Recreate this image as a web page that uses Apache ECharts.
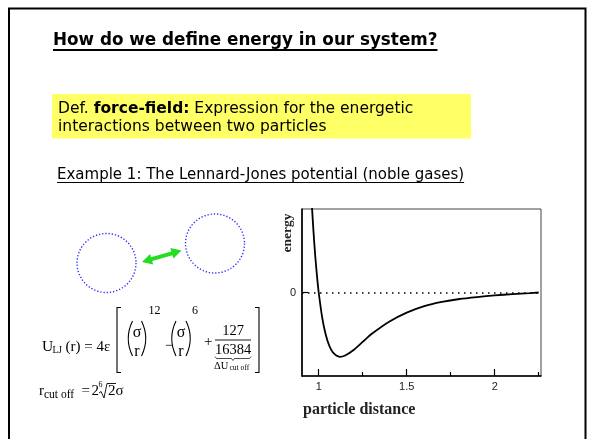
<!DOCTYPE html>
<html>
<head>
<meta charset="utf-8">
<script src="https://cdn.jsdelivr.net/npm/echarts@6/dist/echarts.min.js"></script>
<style>
  html, body { margin: 0; padding: 0; background: #fff; }
  #slide { width: 589px; height: 439px; }
</style>
</head>
<body>
<div id="slide"></div>
<script>
// Lennard-Jones pair energy (units of epsilon) against particle distance (units of sigma)
const distance = [0.955, 0.96, 0.97, 0.98, 0.99, 1.0, 1.02, 1.04, 1.06, 1.08, 1.10, 1.12, 1.15, 1.2, 1.25, 1.3, 1.4, 1.5, 1.6, 1.7, 1.8, 1.9, 2.0, 2.1, 2.2, 2.25];
const energy = [1.75, 1.40, 0.95, 0.57, 0.26, 0.0, -0.39, -0.65, -0.82, -0.92, -0.97, -0.99, -0.97, -0.88, -0.76, -0.64, -0.45, -0.31, -0.21, -0.145, -0.10, -0.07, -0.045, -0.025, -0.01, 0.0];
const distanceTicks = [1, 1.5, 2];
const distanceMinorTicks = [1.25, 1.75, 2.25];
const energyTicks = [0];

const SERIF = '"Liberation Serif", "Times New Roman", serif';
const SANS = '"Liberation Sans", Arial, sans-serif';
const HAND = '"Comic Sans MS", "DejaVu Sans", sans-serif';

const measureCtx = document.createElement('canvas').getContext('2d');
function textWidth(s, font) { measureCtx.font = font; return measureCtx.measureText(s).width; }

function txt(x, y, s, size, extra) {
  const style = Object.assign({
    text: s, fontSize: size, fontFamily: SERIF, fill: '#000',
    textAlign: 'left', textVerticalAlign: 'middle', align: 'left', verticalAlign: 'middle'
  }, extra || {});
  return { type: 'text', x: x, y: y, silent: true, style: style };
}
function poly(points, width, color) {
  return { type: 'polyline', silent: true, shape: { points: points },
           style: { stroke: color || '#000', lineWidth: width, fill: null } };
}
function curve(x1, y1, x2, y2, cx, cy, width) {
  return { type: 'bezierCurve', silent: true,
           shape: { x1: x1, y1: y1, x2: x2, y2: y2, cpx1: cx, cpy1: cy },
           style: { stroke: '#000', lineWidth: width, fill: null } };
}

// double-headed arrow between the two particles
function doubleArrow(ax, ay, bx, by, shaft, head, headLen) {
  const dx = bx - ax, dy = by - ay, L = Math.hypot(dx, dy);
  const ux = dx / L, uy = dy / L, nx = -uy, ny = ux;
  const p = (s, t) => [ax + ux * s + nx * t, ay + uy * s + ny * t];
  return [p(0, 0), p(headLen, head), p(headLen, shaft), p(L - headLen, shaft), p(L - headLen, head),
          p(L, 0), p(L - headLen, -head), p(L - headLen, -shaft), p(headLen, -shaft), p(headLen, -head)];
}

const titleText = 'How do we define energy in our system?';
const titleSize = 16.8;
const exampleText = 'Example 1: The Lennard-Jones potential (noble gases)';
const exampleSize = 15;
const defSize = 15.5;

const graphics = [
  // slide frame
  { type: 'rect', silent: true, shape: { x: 9, y: 8.5, width: 576.5, height: 480 },
    style: { stroke: '#000', lineWidth: 2, fill: null } },
  // heading
  txt(53, 40.5, titleText, titleSize, { fontFamily: HAND, fontWeight: 'bold' }),
  poly([[53, 50], [53 + textWidth(titleText, 'bold ' + titleSize + 'px ' + HAND), 50]], 2),
  // definition box
  { type: 'rect', silent: true, shape: { x: 52, y: 94, width: 419, height: 44.5 }, style: { fill: '#ffff66' } },
  txt(58, 108.5, '{n|Def. }{b|force-field:}{n| Expression for the energetic}', defSize, {
    fontFamily: HAND,
    rich: { n: { fontSize: defSize, fontFamily: HAND, fill: '#000' },
            b: { fontSize: defSize, fontFamily: HAND, fontWeight: 'bold', fill: '#000' } }
  }),
  txt(58, 127, 'interactions between two particles', defSize, { fontFamily: HAND }),
  // example heading
  txt(57, 175, exampleText, exampleSize, { fontFamily: HAND }),
  poly([[57, 182.5], [57 + textWidth(exampleText, exampleSize + 'px ' + HAND), 182.5]], 1),
  // two particles
  { type: 'circle', silent: true, shape: { cx: 106.5, cy: 263, r: 29.5 },
    style: { stroke: '#2f2fff', lineWidth: 1.4, lineDash: [1.3, 1.9], fill: null } },
  { type: 'circle', silent: true, shape: { cx: 215, cy: 243.5, r: 29.5 },
    style: { stroke: '#2f2fff', lineWidth: 1.4, lineDash: [1.3, 1.9], fill: null } },
  { type: 'polygon', silent: true, shape: { points: doubleArrow(142, 262, 181.5, 250.5, 2, 5.5, 10) },
    style: { fill: '#22dd22', stroke: null } },

  // U_LJ(r) = 4ε [ (σ/r)^12 − (σ/r)^6 + 127/16384 ]
  txt(42, 347, 'U', 15.5),
  txt(52.5, 350, 'LJ', 9.5),
  txt(65.5, 347, '(r) = 4ε', 15),
  poly([[121, 307.5], [117, 307.5], [117, 372.5], [121, 372.5]], 1.1),
  curve(132.5, 321, 132.5, 356, 124, 338.5, 1.1),
  txt(137, 333, 'σ', 16, { textAlign: 'center', align: 'center' }),
  txt(137, 351.5, 'r', 16, { textAlign: 'center', align: 'center' }),
  curve(141.5, 321, 141.5, 356, 150, 338.5, 1.1),
  txt(148.5, 311, '12', 12),
  txt(165, 346, '−', 15),
  curve(176, 321, 176, 356, 167.5, 338.5, 1.1),
  txt(181, 333, 'σ', 16, { textAlign: 'center', align: 'center' }),
  txt(181, 351.5, 'r', 16, { textAlign: 'center', align: 'center' }),
  curve(186, 321, 186, 356, 194.5, 338.5, 1.1),
  txt(192, 311, '6', 12),
  txt(204, 342, '+', 15),
  txt(233, 331, '127', 14.5, { textAlign: 'center', align: 'center' }),
  poly([[215, 340], [251, 340]], 0.9),
  txt(233, 350.5, '16384', 14.5, { textAlign: 'center', align: 'center' }),
  poly([[215, 356.5], [216.5, 358.5], [231.5, 358.5], [233, 360.5], [234.5, 358.5], [249.5, 358.5], [251, 356.5]], 0.7),
  txt(214, 366.5, 'ΔU', 10.5),
  txt(229.5, 368.5, 'cut off', 7.5),
  poly([[255, 307.5], [259, 307.5], [259, 372.5], [255, 372.5]], 1.1),

  // r_cut off = 2 ⁶√2 σ
  txt(39, 391, 'r', 15),
  txt(44, 395, 'cut off', 11.5),
  txt(81.5, 391, '=', 15),
  txt(91.5, 391, '2', 15),
  txt(98.5, 384.5, '6', 8),
  poly([[99, 393], [101, 391.5], [104, 398], [107, 383.5], [116, 383.5]], 0.9),
  txt(108, 391.5, '2σ', 15),

  // axis titles
  { type: 'text', x: 288, y: 233, rotation: Math.PI / 2, silent: true,
    style: { text: 'energy', fontSize: 13.5, fontWeight: 'bold', fontFamily: SERIF, fill: '#222',
             textAlign: 'center', align: 'center', textVerticalAlign: 'middle', verticalAlign: 'middle' } },
  txt(303, 409.5, 'particle distance', 16, { fontWeight: 'bold', fill: '#222' })
];

const chart = echarts.init(document.getElementById('slide'), null, { renderer: 'canvas' });
chart.setOption({
  animation: false,
  backgroundColor: '#fff',
  grid: { left: 302, top: 209, width: 239, height: 167, show: true,
          borderColor: '#444', borderWidth: 1, backgroundColor: 'transparent' },
  xAxis: [
    { type: 'value', min: 0.905, max: 2.263, position: 'bottom',
      axisLine: { show: true, onZero: false, lineStyle: { color: '#000', width: 1.6 } },
      axisTick: { show: true, inside: true, length: 7, customValues: distanceTicks,
                  lineStyle: { color: '#000', width: 1.2 } },
      axisLabel: { customValues: distanceTicks, color: '#222', fontFamily: SANS, fontSize: 11, margin: 5 },
      splitLine: { show: false } },
    { type: 'value', min: 0.905, max: 2.263, position: 'bottom',
      axisLine: { show: false, onZero: false },
      axisTick: { show: true, inside: true, length: 4, customValues: distanceMinorTicks,
                  lineStyle: { color: '#000', width: 1.2 } },
      axisLabel: { show: false },
      splitLine: { show: false } }
  ],
  yAxis: {
    type: 'value', min: -1.285, max: 1.285,
    axisLine: { show: true, onZero: false, lineStyle: { color: '#000', width: 1.6 } },
    axisTick: { show: true, inside: true, length: 6, customValues: energyTicks,
                lineStyle: { color: '#000', width: 1.2 } },
    axisLabel: { customValues: energyTicks, color: '#222', fontFamily: SANS, fontSize: 11, margin: 6 },
    splitLine: { show: false }
  },
  series: [{
    type: 'line',
    data: distance.map((d, i) => [d, energy[i]]),
    showSymbol: false,
    smooth: 0.25,
    clip: true,
    lineStyle: { color: '#000', width: 1.8 },
    markLine: {
      silent: true, symbol: ['none', 'none'], label: { show: false },
      lineStyle: { color: '#000', type: [1.5, 4.5], width: 1.6 },
      data: [{ yAxis: 0 }]
    }
  }],
  graphic: graphics
});
</script>
</body>
</html>
